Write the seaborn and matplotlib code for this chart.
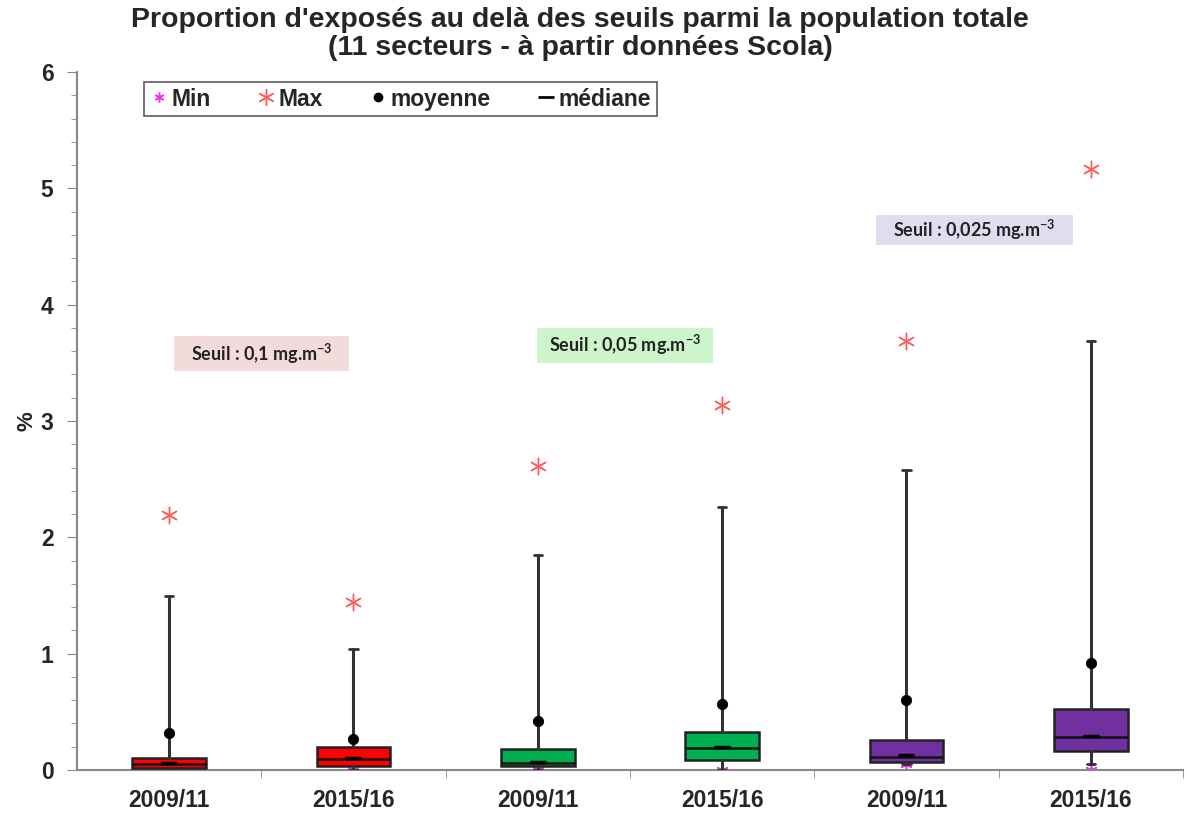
import matplotlib
matplotlib.use('Agg')
import matplotlib.pyplot as plt
import seaborn as sns
import numpy as np
import pandas as pd
from matplotlib.lines import Line2D
from matplotlib.patches import Rectangle

# ---- data ----
periods = ['2009/11', '2015/16', '2009/11', '2015/16', '2009/11', '2015/16']
whisker_low = [0.0, 0.0, 0.0, 0.0, 0.05, 0.05]
q1 = [0.015, 0.035, 0.035, 0.09, 0.065, 0.165]
medians = [0.05, 0.095, 0.06, 0.185, 0.115, 0.28]
q3 = [0.10, 0.20, 0.18, 0.325, 0.26, 0.525]
whisker_high = [1.50, 1.04, 1.85, 2.26, 2.58, 3.69]
means = [0.32, 0.265, 0.42, 0.57, 0.60, 0.92]
maxima = [2.19, 1.44, 2.61, 3.14, 3.69, 5.17]
minima = [0.0, 0.0, 0.0, 0.0, 0.05, 0.0]
box_colors = ['#ff0000', '#ff0000', '#00b050', '#00b050', '#7030a0', '#7030a0']
seuil_labels = ['Seuil : 0,1 mg.m$^{\\mathregular{-3}}$',
                'Seuil : 0,05 mg.m$^{\\mathregular{-3}}$',
                'Seuil : 0,025 mg.m$^{\\mathregular{-3}}$']
seuil_colors = ['#f2dcdb', '#ccf5cc', '#e1ddf0']

sns.set_style('white')
plt.rcParams['font.family'] = ['Liberation Sans', 'DejaVu Sans']

fig = plt.figure(figsize=(11.87, 8.14), dpi=100)
ax = fig.add_axes([77/1187, 1-770/814, (1183-77)/1187, (770-72)/814])

pos = np.arange(len(periods))
stats = []
for i in range(len(periods)):
    stats.append(dict(med=medians[i], q1=q1[i], q3=q3[i],
                      whislo=whisker_low[i], whishi=whisker_high[i],
                      fliers=[], label=periods[i]))

bp = ax.bxp(stats, positions=pos, widths=0.40, patch_artist=True,
            showfliers=False, manage_ticks=False,
            boxprops=dict(edgecolor='#222222', linewidth=1.8),
            medianprops=dict(color='#111111', linewidth=1.8),
            whiskerprops=dict(color='#333333', linewidth=2.2),
            capprops=dict(color='#333333', linewidth=2.0),
            capwidths=0.045, zorder=3)
for patch, c in zip(bp['boxes'], box_colors):
    patch.set_facecolor(c)

df = pd.DataFrame({'x': pos, 'mean': means, 'max': maxima, 'min': minima,
                   'median': medians})

sns.scatterplot(data=df, x='x', y='min', ax=ax, marker=(6, 2, 0), s=55,
                color='#ee33ee', linewidth=1.2, zorder=2, legend=False)
sns.scatterplot(data=df, x='x', y='max', ax=ax, marker=(6, 2, 0), s=140,
                color='#ff5a5a', linewidth=1.0, zorder=4, legend=False)
sns.scatterplot(data=df, x='x', y='mean', ax=ax, marker='o', s=55,
                color='black', edgecolor='black', zorder=5, legend=False)
ax.plot(pos, [m + 0.01 for m in medians], linestyle='none', marker='_',
        markersize=12, mew=2.5, color='black', zorder=5)

# threshold labels
boxes = [(0.027, 3.43, 0.95, 0.30), (1.995, 3.50, 0.953, 0.30),
         (3.832, 4.51, 1.073, 0.265)]
for (x0, y0, w, h), lab, col in zip(boxes, seuil_labels, seuil_colors):
    ax.add_patch(Rectangle((x0, y0), w, h, facecolor=col, edgecolor='none',
                           zorder=1))
    ax.text(x0 + w/2, y0 + h/2, lab, ha='center', va='center',
            fontsize=13, fontweight='bold', family=['Lato', 'DejaVu Sans'],
            color='#222222', zorder=2)

ax.set_xlim(-0.5, 5.5)
ax.set_ylim(0, 6)
ax.set_xticks(pos)
ax.set_xticklabels(periods, fontsize=16.5, fontweight='bold')
ax.set_xticks(np.arange(0.5, 5.6, 1), minor=True)
ax.tick_params(axis='x', which='major', length=0, pad=14)
ax.tick_params(axis='x', which='minor', length=6, color='#888888',
               direction='out', bottom=True)
ax.set_yticks(range(0, 7))
ax.set_yticks(np.arange(0, 6.01, 0.2), minor=True)
ax.tick_params(axis='y', which='major', length=7, color='#888888',
               direction='out', labelsize=16.5, pad=10, left=True)
ax.tick_params(axis='y', which='minor', length=4, color='#888888',
               direction='out', left=True)
for t in ax.get_yticklabels():
    t.set_fontweight('bold')
ax.set_ylabel('%', fontsize=16, fontweight='bold', labelpad=2)
ax.set_xlabel('')

for s in ['top', 'right']:
    ax.spines[s].set_visible(False)
for s in ['left', 'bottom']:
    ax.spines[s].set_color('#888888')
    ax.spines[s].set_linewidth(1.5)

handles = [
    Line2D([], [], linestyle='none', marker=(6, 2, 0), markersize=7,
           color='#ee33ee', mew=1.1),
    Line2D([], [], linestyle='none', marker=(6, 2, 0), markersize=12,
           color='#ff5a5a', mew=1.0),
    Line2D([], [], linestyle='none', marker='o', markersize=6, color='black'),
    Line2D([], [], linestyle='none', marker='_', markersize=12, mew=2,
           color='black'),
]
leg = ax.legend(handles, ['Min', 'Max', 'moyenne', 'médiane'], ncol=4,
                loc='upper left', bbox_to_anchor=(0.061, 0.986),
                borderaxespad=0,
                prop=dict(weight='bold', size=16.5), frameon=True,
                fancybox=False, handlelength=0.8, handletextpad=0.15,
                columnspacing=2.0, borderpad=0.25)
leg.get_frame().set_edgecolor('#333333')
leg.get_frame().set_linewidth(1.2)

fig.text(580/1187, 1 - 7/814,
         "Proportion d'exposés au delà des seuils parmi la population totale\n"
         "(11 secteurs - à partir données Scola)",
         ha='center', va='top', fontsize=20.5, fontweight='bold',
         linespacing=1.1)

fig.savefig('out.png', dpi=100)
